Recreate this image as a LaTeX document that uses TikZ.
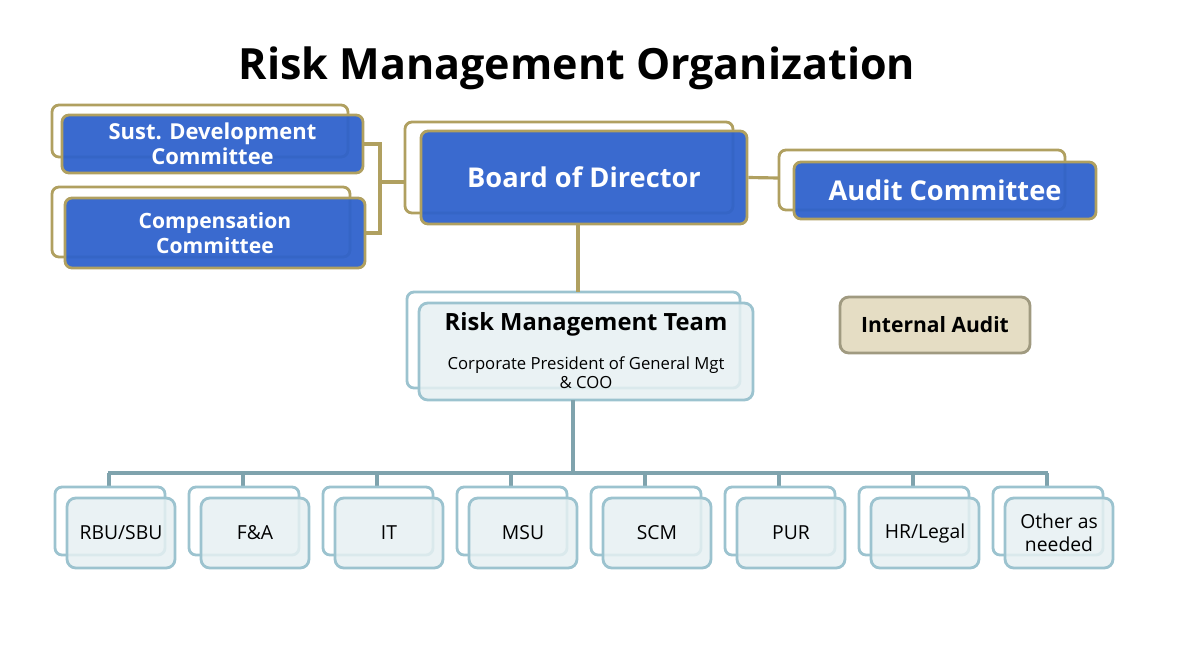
\documentclass[tikz,border=0pt]{standalone}
\usepackage{fontspec}
\setmainfont{Open Sans}
\usetikzlibrary{positioning}
\definecolor{boardblue}{HTML}{2F62CC}
\definecolor{goldline}{HTML}{B0A060}
\definecolor{paleteal}{HTML}{E6F0F2}
\definecolor{tealline}{HTML}{9CC3CF}
\definecolor{treeline}{HTML}{7FA3AD}
\definecolor{auditfill}{HTML}{E5DDC4}
\definecolor{auditline}{HTML}{A09A80}
\begin{document}
\begin{tikzpicture}[x=0.02cm,y=-0.02cm,
  backbox/.style={draw=#1, line width=1.6pt, rounded corners=4pt},
  bluebox/.style={draw=goldline, fill=boardblue, fill opacity=0.95, text opacity=1,
                  line width=1.6pt, rounded corners=4pt, text=white, font=\bfseries, align=center},
  tealbox/.style={draw=tealline, fill=paleteal, fill opacity=0.85, text opacity=1,
                  line width=1.6pt, rounded corners=5pt, align=center, font=\fontsize{11}{13}\selectfont},
  goldlink/.style={goldline, line width=1.8pt},
  treelink/.style={treeline, line width=1.8pt}
 ]
\useasboundingbox (0,0) rectangle (1180,664);
\node (title) at (577,68) {\fontsize{24.5}{30}\selectfont\bfseries Risk Management Organization};

% committees and board
\draw[backbox=goldline] (52,105) rectangle (348,157);
\node[bluebox, minimum width=301*0.02cm, minimum height=58*0.02cm, font=\fontsize{12.5}{13}\selectfont\bfseries,
      inner sep=0pt] (sust) at (212.5,144) {Sust. Development\\[1pt]Committee};
\draw[backbox=goldline] (52,187) rectangle (350,257);
\node[bluebox, minimum width=300*0.02cm, minimum height=70*0.02cm, font=\fontsize{12}{14}\selectfont\bfseries]
      (comp) at (215,233) {Compensation\\Committee};
\draw[backbox=goldline] (405,122) rectangle (733,213);
\node[bluebox, minimum width=326*0.02cm, minimum height=93*0.02cm, font=\fontsize{15.5}{18}\selectfont\bfseries]
      (board) at (584,177.5) {Board of Director};
\draw[backbox=goldline] (779,150) rectangle (1065,210);
\node[bluebox, minimum width=302*0.02cm, minimum height=57*0.02cm, font=\fontsize{15.5}{18}\selectfont\bfseries]
      (audit) at (945,190.5) {Audit Committee};

\coordinate (bracket) at (380,182);
\draw[goldlink] (sust.east) -| (bracket) |- (comp.east);
\draw[goldlink] (bracket) -- (405,182);
\draw[goldlink] (board.east) -- (779,178);

% risk management team
\draw[backbox=tealline] (407,292) rectangle (740,388);
\node[tealbox, minimum width=334*0.02cm, minimum height=97*0.02cm] (team) at (586,351.5) {};
\node[font=\fontsize{13.5}{16}\selectfont\bfseries] (teamtitle) at (586,324) {Risk Management Team};
\node[font=\fontsize{9.5}{12}\selectfont, align=center] (teamsub) at (586,373) {Corporate President of General Mgt\\[-1pt]\& COO};
\draw[goldlink] (board.south -| 578,0) -- (578,292);

\node[draw=auditline, fill=auditfill, line width=1.6pt, rounded corners=5pt,
      minimum width=190*0.02cm, minimum height=56*0.02cm, font=\fontsize{12}{14}\selectfont\bfseries]
      (internal) at (935,325) {Internal Audit};

% units
\coordinate (hub) at (573,473);
\draw[treelink] (573,400) -- (hub);
\draw[treelink] (108,473) -- (1048,473);
\foreach \n/\lbl [count=\i from 0] in {rbu/{RBU/SBU}, fa/F\&A, it/IT, msu/MSU, scm/SCM, pur/PUR, hr/{HR/Legal}, other/{Other as\\needed}} {
  \pgfmathsetmacro\bx{55+134*\i}
  \draw[treelink] (\bx+54,473) -- (\bx+54,487);
  \draw[backbox=tealline] (\bx,487) rectangle (\bx+110,555);
  \node[tealbox, minimum width=108*0.02cm, minimum height=70*0.02cm, inner sep=1pt] (\n) at (\bx+66,533) {\lbl};
}
\end{tikzpicture}
\end{document}
